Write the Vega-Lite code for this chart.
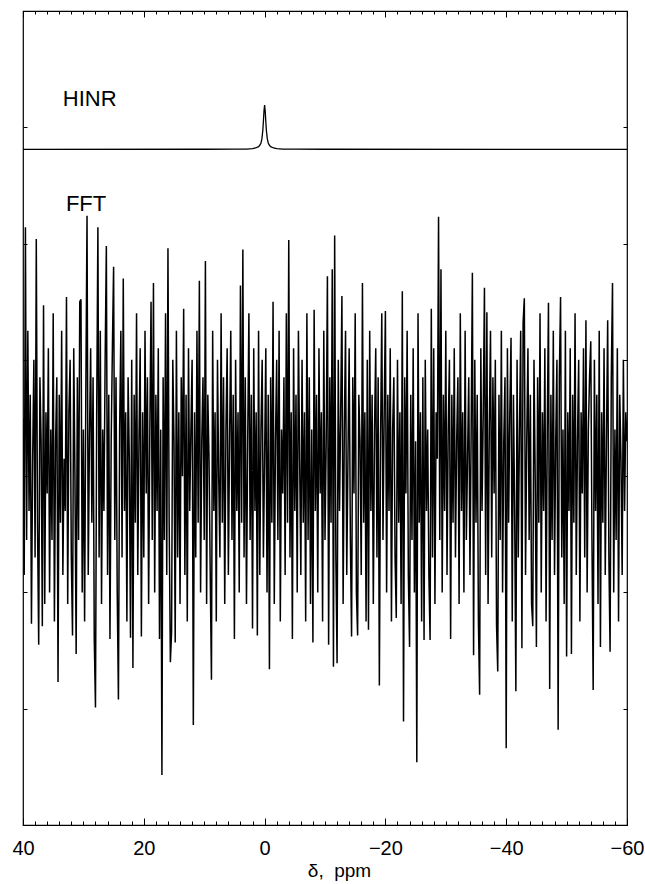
{
  "$schema": "https://vega.github.io/schema/vega-lite/v6.json",
  "autosize": {"type": "none"},
  "padding": {"left": 23, "top": 11, "right": 18, "bottom": 59},
  "width": 604,
  "height": 814,
  "background": "white",
  "config": {
    "view": {"stroke": "black", "strokeWidth": 1.2},
    "font": "Liberation Sans"
  },
  "datasets": {
    "fft": [
      {"ppm":40,"amp":0.5},{"ppm":39.8,"amp":-0.85},{"ppm":39.6,"amp":2.14},{"ppm":39.4,"amp":-0.55},{"ppm":39.2,"amp":1.25},{"ppm":39,"amp":-0.3},{"ppm":38.8,"amp":0.7},{"ppm":38.6,"amp":-1.27},{"ppm":38.4,"amp":0.15},{"ppm":38.2,"amp":1.0},
      {"ppm":38,"amp":-0.7},{"ppm":37.8,"amp":2.04},{"ppm":37.6,"amp":-0.4},{"ppm":37.4,"amp":-1.45},{"ppm":37.2,"amp":0.85},{"ppm":37,"amp":0.3},{"ppm":36.8,"amp":-1.29},{"ppm":36.6,"amp":1.47},{"ppm":36.4,"amp":-1.1},{"ppm":36.2,"amp":0.55},
      {"ppm":36,"amp":-0.15},{"ppm":35.8,"amp":1.1},{"ppm":35.6,"amp":-1.0},{"ppm":35.4,"amp":0.4},{"ppm":35.2,"amp":-0.55},{"ppm":35,"amp":1.4},{"ppm":34.8,"amp":-1.25},{"ppm":34.6,"amp":0.3},{"ppm":34.4,"amp":0.85},{"ppm":34.2,"amp":-1.77},
      {"ppm":34,"amp":0.7},{"ppm":33.8,"amp":-0.4},{"ppm":33.6,"amp":1.25},{"ppm":33.4,"amp":-0.85},{"ppm":33.2,"amp":0.15},{"ppm":33,"amp":-0.3},{"ppm":32.8,"amp":1.54},{"ppm":32.6,"amp":-1.1},{"ppm":32.4,"amp":0.55},{"ppm":32.2,"amp":1.0},
      {"ppm":32,"amp":-0.7},{"ppm":31.8,"amp":-1.37},{"ppm":31.6,"amp":1.1},{"ppm":31.4,"amp":0.0},{"ppm":31.2,"amp":-1.53},{"ppm":31,"amp":0.85},{"ppm":30.8,"amp":-0.55},{"ppm":30.6,"amp":1.5},{"ppm":30.4,"amp":1.52},{"ppm":30.2,"amp":-1.0},
      {"ppm":30,"amp":0.4},{"ppm":29.8,"amp":-1.25},{"ppm":29.6,"amp":0.7},{"ppm":29.4,"amp":2.24},{"ppm":29.2,"amp":-0.85},{"ppm":29,"amp":0.3},{"ppm":28.8,"amp":1.1},{"ppm":28.6,"amp":-0.4},{"ppm":28.4,"amp":0.85},{"ppm":28.2,"amp":-1.4},
      {"ppm":28,"amp":-1.99},{"ppm":27.8,"amp":0.55},{"ppm":27.6,"amp":2.14},{"ppm":27.4,"amp":-0.7},{"ppm":27.2,"amp":1.25},{"ppm":27,"amp":-1.1},{"ppm":26.8,"amp":0.4},{"ppm":26.6,"amp":-0.3},{"ppm":26.4,"amp":1.0},{"ppm":26.2,"amp":1.98},
      {"ppm":26,"amp":-0.85},{"ppm":25.8,"amp":0.7},{"ppm":25.6,"amp":-1.4},{"ppm":25.4,"amp":0.3},{"ppm":25.2,"amp":1.1},{"ppm":25,"amp":1.80},{"ppm":24.8,"amp":-0.55},{"ppm":24.6,"amp":0.85},{"ppm":24.4,"amp":-1.0},{"ppm":24.2,"amp":-1.92},
      {"ppm":24,"amp":0.4},{"ppm":23.8,"amp":1.25},{"ppm":23.6,"amp":-0.7},{"ppm":23.4,"amp":1.70},{"ppm":23.2,"amp":-0.3},{"ppm":23,"amp":0.55},{"ppm":22.8,"amp":-1.25},{"ppm":22.6,"amp":0.85},{"ppm":22.4,"amp":0.15},{"ppm":22.2,"amp":-1.39},
      {"ppm":22,"amp":1.0},{"ppm":21.8,"amp":-1.65},{"ppm":21.6,"amp":0.7},{"ppm":21.4,"amp":-0.4},{"ppm":21.2,"amp":1.4},{"ppm":21,"amp":-0.85},{"ppm":20.8,"amp":0.3},{"ppm":20.6,"amp":1.1},{"ppm":20.4,"amp":-1.38},{"ppm":20.2,"amp":0.55},
      {"ppm":20,"amp":-0.7},{"ppm":19.8,"amp":1.25},{"ppm":19.6,"amp":-0.15},{"ppm":19.4,"amp":0.85},{"ppm":19.2,"amp":-1.1},{"ppm":19,"amp":0.4},{"ppm":18.8,"amp":1.5},{"ppm":18.6,"amp":-0.55},{"ppm":18.4,"amp":1.66},{"ppm":18.2,"amp":-1.0},
      {"ppm":18,"amp":0.7},{"ppm":17.8,"amp":-0.3},{"ppm":17.6,"amp":1.1},{"ppm":17.4,"amp":-1.4},{"ppm":17.2,"amp":0.4},{"ppm":17,"amp":-2.57},{"ppm":16.8,"amp":0.85},{"ppm":16.6,"amp":-0.55},{"ppm":16.4,"amp":1.4},{"ppm":16.2,"amp":-0.85},
      {"ppm":16,"amp":1.96},{"ppm":15.8,"amp":-0.4},{"ppm":15.6,"amp":-1.60},{"ppm":15.4,"amp":-1.34},{"ppm":15.2,"amp":1.0},{"ppm":15,"amp":0.3},{"ppm":14.8,"amp":-1.43},{"ppm":14.6,"amp":1.25},{"ppm":14.4,"amp":-0.7},{"ppm":14.2,"amp":0.55},
      {"ppm":14,"amp":-1.1},{"ppm":13.8,"amp":0.85},{"ppm":13.6,"amp":0.0},{"ppm":13.4,"amp":1.44},{"ppm":13.2,"amp":-0.85},{"ppm":13,"amp":0.7},{"ppm":12.8,"amp":-1.25},{"ppm":12.6,"amp":1.1},{"ppm":12.4,"amp":-0.3},{"ppm":12.2,"amp":0.4},
      {"ppm":12,"amp":1.0},{"ppm":11.8,"amp":-2.14},{"ppm":11.6,"amp":0.55},{"ppm":11.4,"amp":-0.7},{"ppm":11.2,"amp":1.25},{"ppm":11,"amp":-0.4},{"ppm":10.8,"amp":1.68},{"ppm":10.6,"amp":-1.0},{"ppm":10.4,"amp":0.3},{"ppm":10.2,"amp":0.85},
      {"ppm":10,"amp":-0.55},{"ppm":9.8,"amp":1.85},{"ppm":9.6,"amp":-1.1},{"ppm":9.4,"amp":0.7},{"ppm":9.2,"amp":0.15},{"ppm":9,"amp":-0.85},{"ppm":8.8,"amp":-1.75},{"ppm":8.6,"amp":1.25},{"ppm":8.4,"amp":-0.3},{"ppm":8.2,"amp":0.55},
      {"ppm":8,"amp":-1.25},{"ppm":7.8,"amp":1.0},{"ppm":7.6,"amp":0.0},{"ppm":7.4,"amp":-0.7},{"ppm":7.2,"amp":1.4},{"ppm":7,"amp":-0.4},{"ppm":6.8,"amp":0.85},{"ppm":6.6,"amp":-1.1},{"ppm":6.4,"amp":0.4},{"ppm":6.2,"amp":1.1},
      {"ppm":6,"amp":-0.85},{"ppm":5.8,"amp":0.3},{"ppm":5.6,"amp":1.25},{"ppm":5.4,"amp":-0.55},{"ppm":5.2,"amp":0.7},{"ppm":5,"amp":-1.4},{"ppm":4.8,"amp":1.0},{"ppm":4.6,"amp":-0.3},{"ppm":4.4,"amp":0.55},{"ppm":4.2,"amp":-1.0},
      {"ppm":4,"amp":1.64},{"ppm":3.8,"amp":-0.4},{"ppm":3.6,"amp":1.95},{"ppm":3.4,"amp":-0.7},{"ppm":3.2,"amp":0.85},{"ppm":3,"amp":-1.1},{"ppm":2.8,"amp":0.3},{"ppm":2.6,"amp":1.4},{"ppm":2.4,"amp":-0.55},{"ppm":2.2,"amp":0.7},
      {"ppm":2,"amp":-1.31},{"ppm":1.8,"amp":1.1},{"ppm":1.6,"amp":-0.3},{"ppm":1.4,"amp":0.55},{"ppm":1.2,"amp":-1.37},{"ppm":1,"amp":1.25},{"ppm":0.8,"amp":-0.85},{"ppm":0.6,"amp":0.4},{"ppm":0.4,"amp":1.0},{"ppm":0.2,"amp":-0.7},
      {"ppm":0,"amp":0.15},{"ppm":-0.2,"amp":1.1},{"ppm":-0.4,"amp":-1.0},{"ppm":-0.6,"amp":0.7},{"ppm":-0.8,"amp":-1.66},{"ppm":-1,"amp":0.85},{"ppm":-1.2,"amp":-0.4},{"ppm":-1.4,"amp":1.5},{"ppm":-1.6,"amp":-1.1},{"ppm":-1.8,"amp":0.3},
      {"ppm":-2,"amp":1.0},{"ppm":-2.2,"amp":-0.55},{"ppm":-2.4,"amp":1.25},{"ppm":-2.6,"amp":-1.25},{"ppm":-2.8,"amp":0.4},{"ppm":-3,"amp":-0.15},{"ppm":-3.2,"amp":0.85},{"ppm":-3.4,"amp":-0.85},{"ppm":-3.6,"amp":1.4},{"ppm":-3.8,"amp":-0.4},
      {"ppm":-4,"amp":2.03},{"ppm":-4.2,"amp":-0.7},{"ppm":-4.4,"amp":0.55},{"ppm":-4.6,"amp":-1.4},{"ppm":-4.8,"amp":1.1},{"ppm":-5,"amp":-0.3},{"ppm":-5.2,"amp":0.7},{"ppm":-5.4,"amp":-1.0},{"ppm":-5.6,"amp":1.25},{"ppm":-5.8,"amp":0.15},
      {"ppm":-6,"amp":-0.85},{"ppm":-6.2,"amp":1.0},{"ppm":-6.4,"amp":-0.4},{"ppm":-6.6,"amp":0.55},{"ppm":-6.8,"amp":-1.25},{"ppm":-7,"amp":1.4},{"ppm":-7.2,"amp":-0.55},{"ppm":-7.4,"amp":0.85},{"ppm":-7.6,"amp":-1.1},{"ppm":-7.8,"amp":0.4},
      {"ppm":-8,"amp":-1.43},{"ppm":-8.2,"amp":1.43},{"ppm":-8.4,"amp":-0.3},{"ppm":-8.6,"amp":0.7},{"ppm":-8.8,"amp":-1.0},{"ppm":-9,"amp":1.1},{"ppm":-9.2,"amp":-0.15},{"ppm":-9.4,"amp":0.55},{"ppm":-9.6,"amp":-1.25},{"ppm":-9.8,"amp":1.25},
      {"ppm":-10,"amp":-0.55},{"ppm":-10.2,"amp":0.3},{"ppm":-10.4,"amp":1.72},{"ppm":-10.6,"amp":-1.45},{"ppm":-10.8,"amp":0.85},{"ppm":-11,"amp":-0.4},{"ppm":-11.2,"amp":1.78},{"ppm":-11.4,"amp":-1.64},{"ppm":-11.6,"amp":2.07},{"ppm":-11.8,"amp":-0.7},
      {"ppm":-12,"amp":-1.61},{"ppm":-12.2,"amp":1.0},{"ppm":-12.4,"amp":-0.3},{"ppm":-12.6,"amp":0.55},{"ppm":-12.8,"amp":1.55},{"ppm":-13,"amp":-1.1},{"ppm":-13.2,"amp":0.4},{"ppm":-13.4,"amp":1.25},{"ppm":-13.6,"amp":-0.85},{"ppm":-13.8,"amp":0.15},
      {"ppm":-14,"amp":1.1},{"ppm":-14.2,"amp":-0.55},{"ppm":-14.4,"amp":-1.38},{"ppm":-14.6,"amp":0.85},{"ppm":-14.8,"amp":-0.15},{"ppm":-15,"amp":1.4},{"ppm":-15.2,"amp":-1.0},{"ppm":-15.4,"amp":-1.37},{"ppm":-15.6,"amp":0.7},{"ppm":-15.8,"amp":0.3},
      {"ppm":-16,"amp":-0.85},{"ppm":-16.2,"amp":1.66},{"ppm":-16.4,"amp":-0.4},{"ppm":-16.6,"amp":0.55},{"ppm":-16.8,"amp":-1.25},{"ppm":-17,"amp":1.0},{"ppm":-17.2,"amp":-1.32},{"ppm":-17.4,"amp":1.25},{"ppm":-17.6,"amp":-0.3},{"ppm":-17.8,"amp":0.7},
      {"ppm":-18,"amp":-1.1},{"ppm":-18.2,"amp":0.4},{"ppm":-18.4,"amp":1.1},{"ppm":-18.6,"amp":-0.7},{"ppm":-18.8,"amp":0.85},{"ppm":-19,"amp":-1.80},{"ppm":-19.2,"amp":0.3},{"ppm":-19.4,"amp":1.4},{"ppm":-19.6,"amp":-0.55},{"ppm":-19.8,"amp":0.55},
      {"ppm":-20,"amp":1.42},{"ppm":-20.2,"amp":-1.0},{"ppm":-20.4,"amp":0.7},{"ppm":-20.6,"amp":-0.3},{"ppm":-20.8,"amp":1.1},{"ppm":-21,"amp":-1.25},{"ppm":-21.2,"amp":0.4},{"ppm":-21.4,"amp":0.85},{"ppm":-21.6,"amp":-0.7},{"ppm":-21.8,"amp":-1.22},
      {"ppm":-22,"amp":1.0},{"ppm":-22.2,"amp":-0.4},{"ppm":-22.4,"amp":0.55},{"ppm":-22.6,"amp":-1.1},{"ppm":-22.8,"amp":1.59},{"ppm":-23,"amp":-2.11},{"ppm":-23.2,"amp":0.85},{"ppm":-23.4,"amp":-0.15},{"ppm":-23.6,"amp":1.25},{"ppm":-23.8,"amp":-0.85},
      {"ppm":-24,"amp":-1.47},{"ppm":-24.2,"amp":0.7},{"ppm":-24.4,"amp":-0.55},{"ppm":-24.6,"amp":1.1},{"ppm":-24.8,"amp":-1.0},{"ppm":-25,"amp":0.3},{"ppm":-25.2,"amp":-2.46},{"ppm":-25.4,"amp":1.4},{"ppm":-25.6,"amp":-0.4},{"ppm":-25.8,"amp":0.55},
      {"ppm":-26,"amp":-1.25},{"ppm":-26.2,"amp":0.85},{"ppm":-26.4,"amp":-1.41},{"ppm":-26.6,"amp":1.0},{"ppm":-26.8,"amp":-0.3},{"ppm":-27,"amp":0.4},{"ppm":-27.2,"amp":-0.85},{"ppm":-27.4,"amp":-1.41},{"ppm":-27.6,"amp":1.44},{"ppm":-27.8,"amp":-0.7},
      {"ppm":-28,"amp":1.1},{"ppm":-28.2,"amp":-1.1},{"ppm":-28.4,"amp":0.55},{"ppm":-28.6,"amp":0.15},{"ppm":-28.8,"amp":2.23},{"ppm":-29,"amp":-0.55},{"ppm":-29.2,"amp":1.78},{"ppm":-29.4,"amp":-1.0},{"ppm":-29.6,"amp":0.7},{"ppm":-29.8,"amp":-0.3},
      {"ppm":-30,"amp":1.25},{"ppm":-30.2,"amp":-0.85},{"ppm":-30.4,"amp":0.4},{"ppm":-30.6,"amp":1.0},{"ppm":-30.8,"amp":-1.4},{"ppm":-31,"amp":0.7},{"ppm":-31.2,"amp":-0.4},{"ppm":-31.4,"amp":1.1},{"ppm":-31.6,"amp":-0.7},{"ppm":-31.8,"amp":0.3},
      {"ppm":-32,"amp":0.85},{"ppm":-32.2,"amp":-1.1},{"ppm":-32.4,"amp":1.4},{"ppm":-32.6,"amp":-0.3},{"ppm":-32.8,"amp":0.55},{"ppm":-33,"amp":-1.0},{"ppm":-33.2,"amp":1.25},{"ppm":-33.4,"amp":-0.55},{"ppm":-33.6,"amp":0.15},{"ppm":-33.8,"amp":0.85},
      {"ppm":-34,"amp":-0.85},{"ppm":-34.2,"amp":0.4},{"ppm":-34.4,"amp":1.75},{"ppm":-34.6,"amp":-1.54},{"ppm":-34.8,"amp":1.0},{"ppm":-35,"amp":-0.4},{"ppm":-35.2,"amp":0.7},{"ppm":-35.4,"amp":-1.25},{"ppm":-35.6,"amp":-1.88},{"ppm":-35.8,"amp":1.1},
      {"ppm":-36,"amp":-0.3},{"ppm":-36.2,"amp":0.55},{"ppm":-36.4,"amp":1.62},{"ppm":-36.6,"amp":-0.85},{"ppm":-36.8,"amp":1.41},{"ppm":-37,"amp":-1.1},{"ppm":-37.2,"amp":0.4},{"ppm":-37.4,"amp":1.25},{"ppm":-37.6,"amp":-0.7},{"ppm":-37.8,"amp":0.85},
      {"ppm":-38,"amp":-0.15},{"ppm":-38.2,"amp":1.0},{"ppm":-38.4,"amp":-1.28},{"ppm":-38.6,"amp":-1.68},{"ppm":-38.8,"amp":0.7},{"ppm":-39,"amp":-0.55},{"ppm":-39.2,"amp":1.25},{"ppm":-39.4,"amp":-1.0},{"ppm":-39.6,"amp":0.3},{"ppm":-39.8,"amp":0.85},
      {"ppm":-40,"amp":-2.34},{"ppm":-40.2,"amp":1.1},{"ppm":-40.4,"amp":-0.4},{"ppm":-40.6,"amp":0.55},{"ppm":-40.8,"amp":1.19},{"ppm":-41,"amp":-1.25},{"ppm":-41.2,"amp":0.7},{"ppm":-41.4,"amp":-0.3},{"ppm":-41.6,"amp":-1.85},{"ppm":-41.8,"amp":1.0},
      {"ppm":-42,"amp":-0.7},{"ppm":-42.2,"amp":0.4},{"ppm":-42.4,"amp":1.25},{"ppm":-42.6,"amp":-1.48},{"ppm":-42.8,"amp":1.32},{"ppm":-43,"amp":1.53},{"ppm":-43.2,"amp":-0.85},{"ppm":-43.4,"amp":0.3},{"ppm":-43.6,"amp":1.1},{"ppm":-43.8,"amp":-0.55},
      {"ppm":-44,"amp":0.7},{"ppm":-44.2,"amp":-1.1},{"ppm":-44.4,"amp":-1.29},{"ppm":-44.6,"amp":1.0},{"ppm":-44.8,"amp":0.0},{"ppm":-45,"amp":-1.47},{"ppm":-45.2,"amp":0.85},{"ppm":-45.4,"amp":-0.4},{"ppm":-45.6,"amp":1.4},{"ppm":-45.8,"amp":-1.0},
      {"ppm":-46,"amp":0.55},{"ppm":-46.2,"amp":-0.3},{"ppm":-46.4,"amp":1.1},{"ppm":-46.6,"amp":-1.25},{"ppm":-46.8,"amp":0.4},{"ppm":-47,"amp":1.49},{"ppm":-47.2,"amp":-1.83},{"ppm":-47.4,"amp":0.7},{"ppm":-47.6,"amp":-0.55},{"ppm":-47.8,"amp":1.25},
      {"ppm":-48,"amp":-0.85},{"ppm":-48.2,"amp":0.3},{"ppm":-48.4,"amp":1.0},{"ppm":-48.6,"amp":-2.18},{"ppm":-48.8,"amp":0.85},{"ppm":-49,"amp":1.54},{"ppm":-49.2,"amp":-0.7},{"ppm":-49.4,"amp":0.4},{"ppm":-49.6,"amp":-1.1},{"ppm":-49.8,"amp":1.25},
      {"ppm":-50,"amp":-1.55},{"ppm":-50.2,"amp":0.55},{"ppm":-50.4,"amp":-0.3},{"ppm":-50.6,"amp":1.1},{"ppm":-50.8,"amp":-1.53},{"ppm":-51,"amp":0.7},{"ppm":-51.2,"amp":-0.4},{"ppm":-51.4,"amp":1.4},{"ppm":-51.6,"amp":-0.85},{"ppm":-51.8,"amp":0.3},
      {"ppm":-52,"amp":1.0},{"ppm":-52.2,"amp":-1.25},{"ppm":-52.4,"amp":0.55},{"ppm":-52.6,"amp":-0.15},{"ppm":-52.8,"amp":1.1},{"ppm":-53,"amp":-0.7},{"ppm":-53.2,"amp":1.34},{"ppm":-53.4,"amp":-1.0},{"ppm":-53.6,"amp":0.4},{"ppm":-53.8,"amp":0.85},
      {"ppm":-54,"amp":1.16},{"ppm":-54.2,"amp":-0.55},{"ppm":-54.4,"amp":-1.84},{"ppm":-54.6,"amp":1.0},{"ppm":-54.8,"amp":-0.3},{"ppm":-55,"amp":0.7},{"ppm":-55.2,"amp":-1.1},{"ppm":-55.4,"amp":1.25},{"ppm":-55.6,"amp":-1.47},{"ppm":-55.8,"amp":0.55},
      {"ppm":-56,"amp":-0.4},{"ppm":-56.2,"amp":1.1},{"ppm":-56.4,"amp":-0.85},{"ppm":-56.6,"amp":0.3},{"ppm":-56.8,"amp":1.34},{"ppm":-57,"amp":-0.7},{"ppm":-57.2,"amp":-1.51},{"ppm":-57.4,"amp":0.85},{"ppm":-57.6,"amp":1.66},{"ppm":-57.8,"amp":-1.0},
      {"ppm":-58,"amp":0.4},{"ppm":-58.2,"amp":-0.55},{"ppm":-58.4,"amp":1.1},{"ppm":-58.6,"amp":-1.25},{"ppm":-58.8,"amp":0.7},{"ppm":-59,"amp":0.15},{"ppm":-59.2,"amp":-0.85},{"ppm":-59.4,"amp":1.0},{"ppm":-59.6,"amp":-0.3},{"ppm":-59.8,"amp":0.55},
      {"ppm":-60,"amp":0.3}
    ],
    "hinr": [
      {"ppm":40,"amp":2.81},{"ppm":10,"amp":2.811},{"ppm":5,"amp":2.812},{"ppm":3,"amp":2.813},{"ppm":2,"amp":2.817},{"ppm":1.5,"amp":2.822},{"ppm":1.0,"amp":2.834},{"ppm":0.8,"amp":2.845},{"ppm":0.6,"amp":2.865},{"ppm":0.45,"amp":2.9},{"ppm":0.3,"amp":2.97},{"ppm":0.2,"amp":3.05},{"ppm":0.1,"amp":3.14},{"ppm":0,"amp":3.19},
      {"ppm":-0.1,"amp":3.14},{"ppm":-0.2,"amp":3.05},{"ppm":-0.3,"amp":2.97},{"ppm":-0.45,"amp":2.9},{"ppm":-0.6,"amp":2.865},{"ppm":-0.8,"amp":2.845},{"ppm":-1.0,"amp":2.834},{"ppm":-1.5,"amp":2.822},{"ppm":-2,"amp":2.817},{"ppm":-3,"amp":2.813},{"ppm":-5,"amp":2.812},{"ppm":-10,"amp":2.811},{"ppm":-60,"amp":2.81}
    ],
    "labels": [
      {"ppm":33.4,"amp":3.18,"text":"HINR"},
      {"ppm":32.9,"amp":2.28,"text":"FFT"}
    ]
  },
  "resolve": {"scale": {"x": "shared", "y": "shared"}, "axis": {"x": "independent", "y": "independent"}},
  "layer": [
    {
      "data": {"name": "fft"},
      "mark": {"type": "line", "color": "black", "strokeWidth": 1.5, "clip": true},
      "encoding": {
        "x": {
          "field": "ppm", "type": "quantitative",
          "scale": {"domain": [-60, 40], "reverse": true, "nice": false, "zero": false},
          "axis": {
            "orient": "bottom",
            "values": [-60,-58,-56,-54,-52,-50,-48,-46,-44,-42,-40,-38,-36,-34,-32,-30,-28,-26,-24,-22,-20,-18,-16,-14,-12,-10,-8,-6,-4,-2,0,2,4,6,8,10,12,14,16,18,20,22,24,26,28,30,32,34,36,38,40],
            "labelExpr": "datum.value % 20 === 0 ? datum.label : ''",
            "labelOverlap": false, "labelFlush": false, "labelBound": false,
            "tickSize": {"condition": {"test": "datum.value % 20 === 0", "value": -7}, "value": -4},
            "tickColor": "black", "tickWidth": 1,
            "domain": false, "grid": false,
            "labelFont": "Liberation Sans", "labelFontSize": 20, "labelColor": "black", "labelPadding": 20,
            "title": "δ,\u00a0\u00a0ppm", "titleFont": "Liberation Sans", "titleFontSize": 19, "titleFontWeight": "normal", "titleColor": "black", "titlePadding": 0, "titleX": 316
          }
        },
        "y": {
          "field": "amp", "type": "quantitative",
          "scale": {"domain": [-3, 4], "nice": false, "zero": false},
          "axis": {"orient": "left", "values": [-2,-1,0,1,2,3], "labels": false, "tickSize": -4, "tickColor": "black", "domain": false, "grid": false, "title": null}
        }
      }
    },
    {
      "data": {"name": "hinr"},
      "mark": {"type": "line", "color": "black", "strokeWidth": 1.3, "clip": true},
      "encoding": {
        "x": {
          "field": "ppm", "type": "quantitative",
          "axis": {
            "orient": "top",
            "values": [-60,-58,-56,-54,-52,-50,-48,-46,-44,-42,-40,-38,-36,-34,-32,-30,-28,-26,-24,-22,-20,-18,-16,-14,-12,-10,-8,-6,-4,-2,0,2,4,6,8,10,12,14,16,18,20,22,24,26,28,30,32,34,36,38,40],
            "labels": false,
            "tickSize": {"condition": {"test": "datum.value % 20 === 0", "value": -6}, "value": -3},
            "tickColor": "black", "tickWidth": 1, "domain": false, "grid": false, "title": null
          }
        },
        "y": {
          "field": "amp", "type": "quantitative",
          "axis": {"orient": "right", "values": [-2,-1,0,1,2,3], "labels": false, "tickSize": -4, "tickColor": "black", "domain": false, "grid": false, "title": null}
        }
      }
    },
    {
      "data": {"name": "labels"},
      "mark": {"type": "text", "align": "left", "baseline": "alphabetic", "font": "Liberation Sans", "fontSize": 22, "color": "black"},
      "encoding": {
        "x": {"field": "ppm", "type": "quantitative", "axis": null},
        "y": {"field": "amp", "type": "quantitative", "axis": null},
        "text": {"field": "text"}
      }
    }
  ]
}
